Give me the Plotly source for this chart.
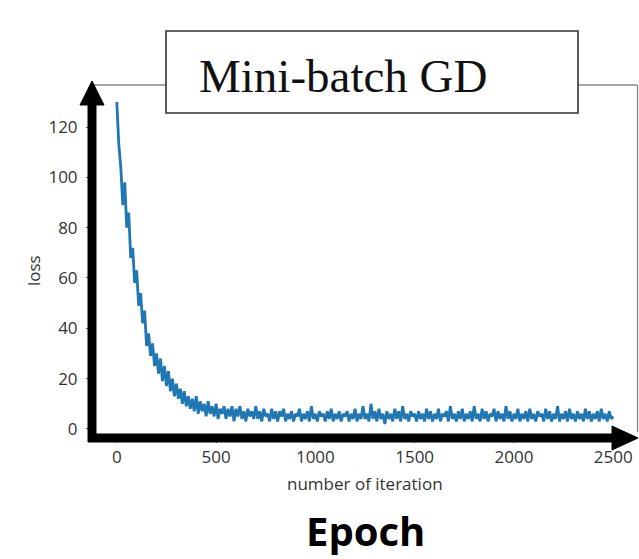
import plotly.graph_objects as go

iterations = list(range(0, 2501, 10))
loss = [
    130, 113, 104, 89, 98, 80, 86, 68, 72, 58,
    63, 49, 54, 42, 47, 33, 38, 29, 34, 25,
    30, 22, 28, 19, 25, 17, 23, 15, 20, 13,
    18, 12, 16, 10, 15, 9, 13, 8, 12, 7,
    13, 6, 11, 7, 10, 5, 11, 6, 9, 5,
    10, 4, 8, 6, 9, 4, 8, 5, 9, 3,
    8,
    5, 9, 4, 7, 3, 8, 5, 7, 4, 9,
    4, 7, 3, 8, 5, 6, 3, 8, 4, 7,
    3, 7, 5, 8, 3, 6, 4, 7, 3, 6,
    5, 8, 3, 6, 4, 7, 3, 9, 4, 6,
    3, 7, 5, 6, 3, 7, 4, 8, 3, 6,
    4, 7, 3, 6, 5, 7, 3, 6, 4, 8,
    3, 6, 4, 9, 4, 6, 3, 10, 4, 7,
    3, 8, 4, 6, 2, 7, 4, 6, 3, 8,
    4, 7, 3, 9, 4, 6, 3, 7, 5, 6,
    3, 7, 4, 6, 3, 8, 4, 7, 3, 6,
    4, 8, 3, 6, 5, 7, 3, 9, 4, 6,
    3, 7, 4, 8, 3, 6, 4, 7, 3, 9,
    4, 6, 3, 8, 4, 7, 3, 6, 5, 8,
    3, 7, 4, 6, 3, 9, 4, 7, 3, 6,
    4, 8, 3, 6, 4, 7, 3, 8, 4, 6,
    3, 7, 5, 6, 3, 8, 4, 7, 3, 6,
    4, 9, 3, 6, 4, 7, 3, 8, 4, 6,
    3, 7, 4, 6, 3, 8, 4, 7, 3, 6,
    4, 7, 3, 8, 4, 6, 3, 7, 4, 5,
]
x_ticks = [0, 500, 1000, 1500, 2000, 2500]
y_ticks = [0, 20, 40, 60, 80, 100, 120]
title_text = "Mini-batch GD"
x_label = "number of iteration"
y_label = "loss"
bottom_label = "Epoch"

W, H = 639, 559
L, R, T, B = 92, 638, 83, 437  # plot area in pixels


def px(x):
    return (x - L) / (R - L)


def py(y):
    return (B - y) / (B - T)


fig = go.Figure()
fig.add_trace(go.Scatter(
    x=iterations, y=loss, mode="lines",
    line=dict(color="#1f77b4", width=2.8),
    showlegend=False, hoverinfo="skip",
))

tick_font = dict(family="Open Sans, DejaVu Sans, sans-serif", size=17, color="#333333")
fig.update_xaxes(
    range=[-125, 2625], tickvals=x_ticks, ticks="outside", ticklen=5,
    tickcolor="#666666", tickwidth=1, tickfont=tick_font,
    showgrid=False, zeroline=False, showline=False,
)
fig.update_yaxes(
    range=[-3.2, 137.5], tickvals=y_ticks, ticks="outside", ticklen=5,
    tickcolor="#666666", tickwidth=1, tickfont=tick_font, ticklabelstandoff=5,
    showgrid=False, zeroline=False, showline=False,
)

shapes = []
frame = dict(color="#888888", width=1.3)
# thin frame: top (split by the title box) and right
shapes.append(dict(type="line", xref="paper", yref="paper",
                   x0=px(92), x1=px(166), y0=py(85), y1=py(85), line=frame))
shapes.append(dict(type="line", xref="paper", yref="paper",
                   x0=px(578), x1=px(637.5), y0=py(85), y1=py(85), line=frame))
shapes.append(dict(type="line", xref="paper", yref="paper",
                   x0=px(637.5), x1=px(637.5), y0=py(85), y1=py(432), line=frame))
# title box
shapes.append(dict(type="rect", xref="paper", yref="paper",
                   x0=px(166), x1=px(578), y0=py(113), y1=py(31),
                   fillcolor="white", line=dict(color="#333333", width=1.6),
                   layer="above"))
# black arrows
shapes.append(dict(type="line", xref="paper", yref="paper",
                   x0=px(92), x1=px(92), y0=py(442), y1=py(100),
                   line=dict(color="black", width=9), layer="above"))
shapes.append(dict(type="line", xref="paper", yref="paper",
                   x0=px(88), x1=px(616), y0=py(438), y1=py(438),
                   line=dict(color="black", width=9), layer="above"))
shapes.append(dict(type="path", xref="paper", yref="paper",
                   path=f"M {px(80)},{py(105)} L {px(92)},{py(81)} L {px(104)},{py(105)} Z",
                   fillcolor="black", line=dict(color="black", width=1), layer="above"))
shapes.append(dict(type="path", xref="paper", yref="paper",
                   path=f"M {px(612)},{py(426)} L {px(638)},{py(438)} L {px(612)},{py(450)} Z",
                   fillcolor="black", line=dict(color="black", width=1), layer="above"))

annotations = [
    dict(text=title_text, xref="paper", yref="paper", x=px(197), y=py(76),
         xanchor="left", yanchor="middle", showarrow=False,
         font=dict(family="Liberation Serif, Times New Roman, serif", size=47, color="#111111")),
    dict(text=x_label, xref="paper", yref="paper", x=px(365), y=py(483),
         xanchor="center", yanchor="middle", showarrow=False,
         font=dict(family="Open Sans, DejaVu Sans, sans-serif", size=17, color="#333333")),
    dict(text=y_label, xref="paper", yref="paper", x=px(33), y=py(271),
         xanchor="center", yanchor="middle", showarrow=False, textangle=-90,
         font=dict(family="Open Sans, DejaVu Sans, sans-serif", size=17, color="#333333")),
    dict(text="<b>" + bottom_label + "</b>", xref="paper", yref="paper", x=px(365), y=py(530),
         xanchor="center", yanchor="middle", showarrow=False,
         font=dict(family="Open Sans, Noto Sans, sans-serif", size=40, color="black")),
]

fig.update_layout(
    width=W, height=H,
    margin=dict(l=L, r=W - R, t=T, b=H - B),
    paper_bgcolor="white", plot_bgcolor="white",
    shapes=shapes, annotations=annotations,
)

fig.write_html("out.html")
